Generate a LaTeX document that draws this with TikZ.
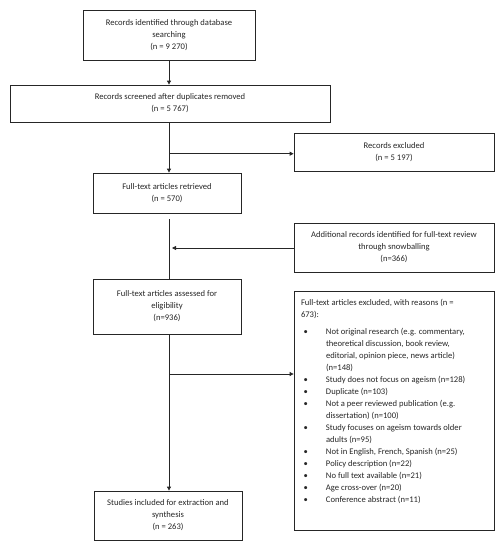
\documentclass[tikz,border=0pt]{standalone}
\usepackage{fontspec}
\setmainfont{Carlito}
\usetikzlibrary{arrows.meta}
\definecolor{ink}{HTML}{262626}
\newcommand{\bitem}[1]{\par\hangindent=25pt\hangafter=1\noindent\makebox[25pt][l]{\hspace{2.5pt}\textbullet}#1}
\begin{document}
\begin{tikzpicture}[x=1pt,y=-1pt,
  box/.style={draw=ink,line width=0.8pt,align=center,inner sep=0pt,text=ink,
    font=\fontsize{8.6}{12}\selectfont},
  conn/.style={draw=ink,line width=0.8pt},
  arr/.style={conn,-{Triangle[length=4pt,width=4pt]}}]
\useasboundingbox (0,0) rectangle (503,550);
\node[box,minimum width=172pt,minimum height=50pt] (b1) at (169,35)
  {Records identified through database\\searching\\(n = 9 270)};
\node[box,minimum width=320pt,minimum height=37pt] (b2) at (170,103.5)
  {Records screened after duplicates removed\\(n = 5 767)};
\node[box,minimum width=200pt,minimum height=38pt] (ex1) at (394,152)
  {Records excluded\\(n = 5 197)};
\node[box,minimum width=148pt,minimum height=40pt] (b3) at (167,193)
  {Full-text articles retrieved\\(n = 570)};
\node[box,minimum width=200pt,minimum height=49pt] (add) at (394,247.5)
  {Additional records identified for full-text review\\through snowballing\\(n=366)};
\node[box,minimum width=148pt,minimum height=55pt] (b4) at (167,306.5)
  {Full-text articles assessed for\\eligibility\\(n=936)};
\node[box,minimum width=200pt,minimum height=239pt] (ex2) at (394,410.5)
  {\parbox[c][239pt][t]{186pt}{\raggedright\vspace*{8.5pt}%
   Full-text articles excluded, with reasons (n =\newline 673):\par\vspace{5pt}%
   \bitem{Not original research (e.g. commentary,\newline theoretical discussion, book review,\newline editorial, opinion piece, news article)\newline (n=148)}
   \bitem{Study does not focus on ageism (n=128)}
   \bitem{Duplicate (n=103)}
   \bitem{Not a peer reviewed publication (e.g.\newline dissertation) (n=100)}
   \bitem{Study focuses on ageism towards older\newline adults (n=95)}
   \bitem{Not in English, French, Spanish (n=25)}
   \bitem{Policy description (n=22)}
   \bitem{No full text available (n=21)}
   \bitem{Age cross-over (n=20)}
   \bitem{Conference abstract (n=11)}\par}};
\node[box,minimum width=148pt,minimum height=49pt] (b5) at (168,515.5)
  {Studies included for extraction and\\synthesis\\(n = 263)};
% spine
\coordinate (s1) at (169,153.7);
\coordinate (s2) at (169,248);
\coordinate (s3) at (169,374);
\coordinate (g3) at (169,219);
\draw[arr] (b1.south) -- (b1.south |- b2.north);
\draw[arr] (b2.south -| s1) -- (s1 |- b3.north);
\draw[arr] (s1) -- (s1 -| ex1.west);
\draw[conn] (g3) -- (g3 |- b4.north);
\draw[arr] (add.west |- s2) -- ([xshift=3pt]s2);
\draw[arr] (b4.south -| s3) -- (s3 |- b5.north);
\draw[arr] (s3) -- (s3 -| ex2.west);
\end{tikzpicture}
\end{document}
